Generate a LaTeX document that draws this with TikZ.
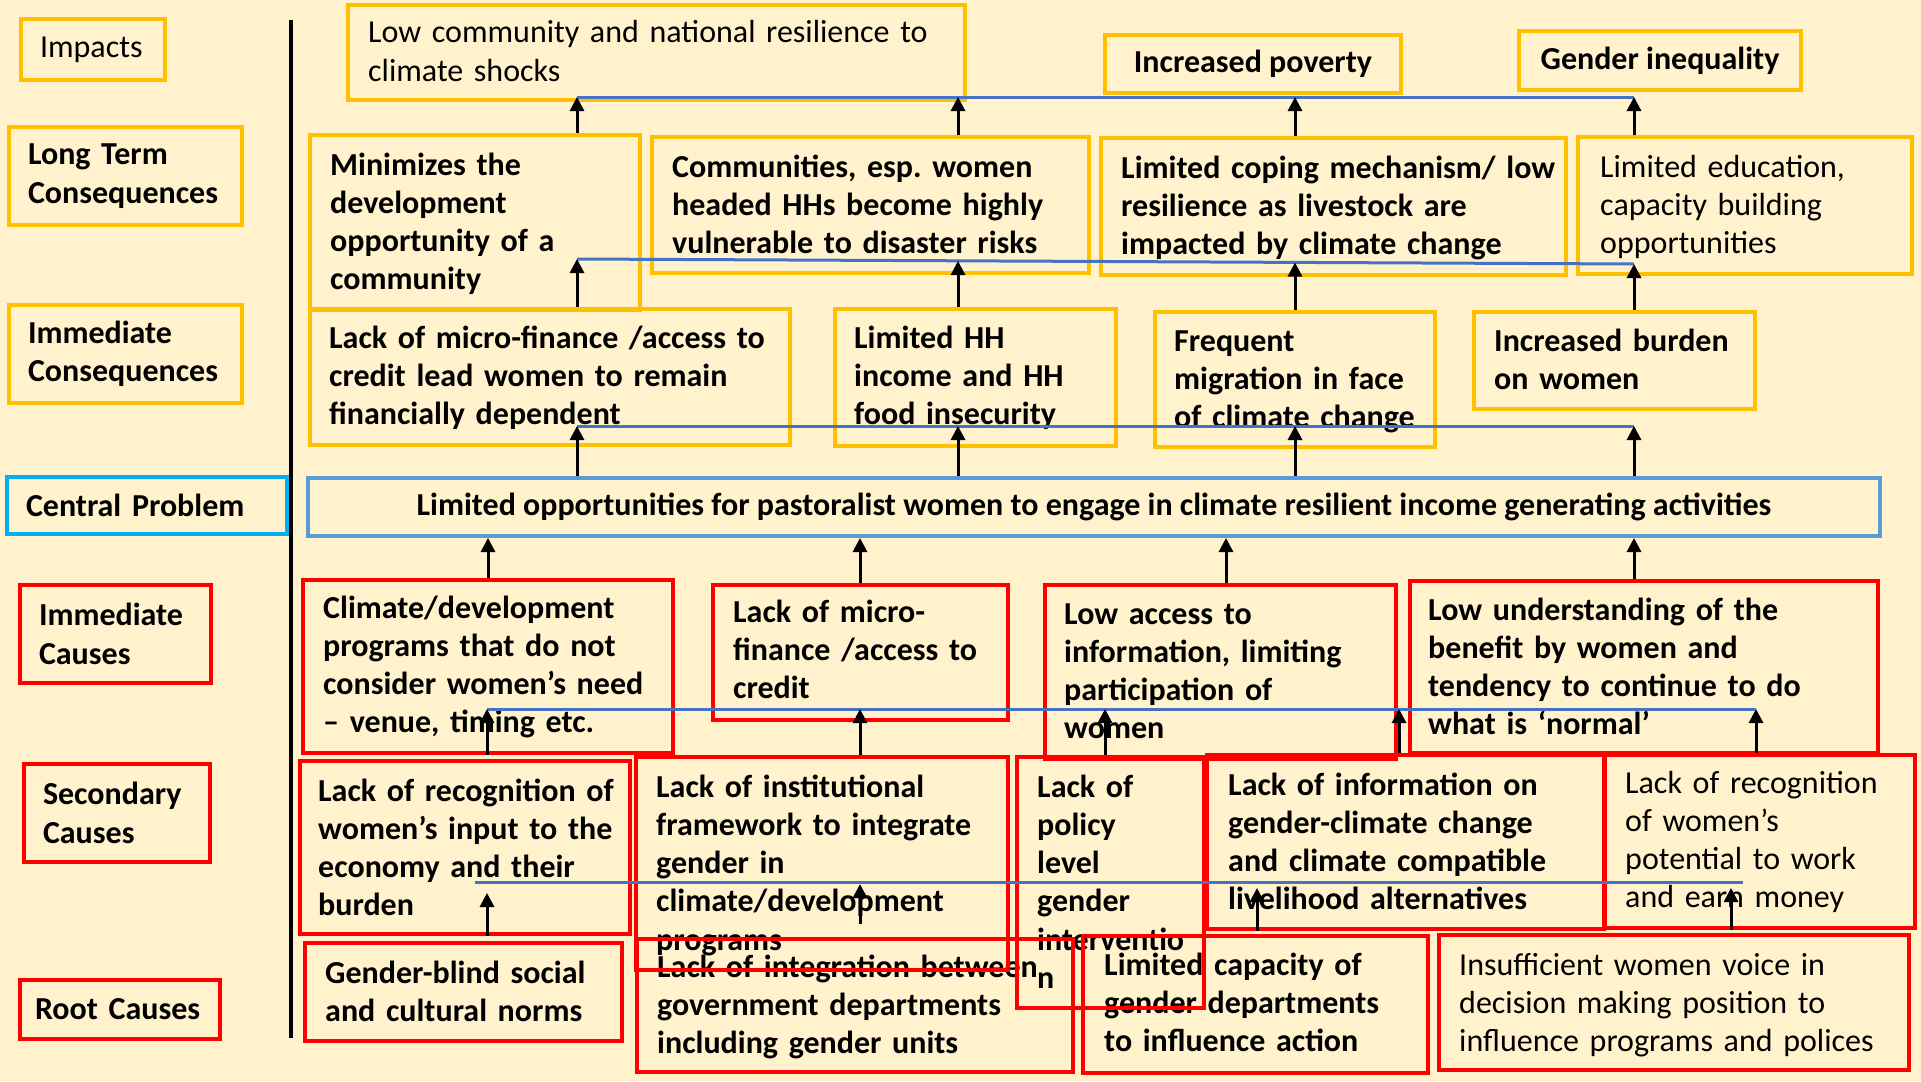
\documentclass[tikz,border=0pt]{standalone}
\usepackage{fontspec}
\setmainfont{Carlito}
\usepackage{tikz}
\usetikzlibrary{arrows.meta,fit,positioning}
\frenchspacing
\definecolor{paper}{HTML}{FFF2CC}
\definecolor{amber}{HTML}{FFC000}
\definecolor{alarm}{HTML}{FF0000}
\definecolor{busblue}{HTML}{4472C4}
\definecolor{probblue}{HTML}{5B9BD5}
\definecolor{labcyan}{HTML}{00B0F0}
\tikzset{
    %Define standard arrow tip
    >={Triangle[length=14pt,width=14pt]},
    %Define style for boxes
    boxline/.style={
           rectangle,
           draw, line width=4pt,
           inner sep=0pt},
    cons/.style={boxline, draw=amber},
    cause/.style={boxline, draw=alarm},
    %Define style for the text in the boxes
    txt/.style={
           anchor=base west,
           inner sep=0pt,
           text width=600pt,
           align=left,
           font=\fontsize{32}{38.3}\selectfont},
    txtb/.style={txt, font=\fontsize{32}{38.3}\selectfont\bfseries},
    %Labels of the levels on the left
    tier/.style={
           rectangle,
           line width=4pt,
           inner xsep=19pt, inner ysep=0pt,
           align=left,
           font=\fontsize{32}{38.3}\selectfont\bfseries},
    % Define arrow style
    uparr/.style={->, line width=3pt},
    bus/.style={busblue, line width=3pt}
}
\begin{document}
\begin{tikzpicture}[x=1pt,y=-1pt]
\path[use as bounding box, fill=paper] (0,0) rectangle (1921,1081);

% level labels
\node[tier, draw=amber, text width=106pt, minimum height=61pt,
  font=\fontsize{32}{38.3}\selectfont] (impacts) at (93,49.5) {Impacts};
\node[tier, draw=amber, text width=195pt, minimum height=98pt] (ltcons) at (125.5,176) {Long Term\\Consequences};
\node[tier, draw=amber, text width=195pt, minimum height=98pt] (imcons) at (125.5,354) {Immediate\\Consequences};
\node[tier, draw=labcyan, text width=242pt, minimum height=57pt] (cprob) at (147,505.5) {Central Problem};
\node[tier, draw=alarm, text width=153pt, minimum height=98pt] (imcaus) at (115.5,634) {Immediate\\Causes};
\node[tier, draw=alarm, text width=148pt, minimum height=98pt] (secaus) at (117,813) {Secondary\\Causes};
\node[tier, draw=alarm, inner xsep=15pt, text width=170pt, minimum height=59pt] (rtcaus) at (120,1009.5) {Root Causes};
\draw[line width=4pt] (291,20) -- (291,1038);

% texts
\node[txt] (lowres-t) at (368,43) {Low community and national resilience to\\climate shocks};
\node[txtb] (minim-t) at (330,175) {Minimizes the\\development\\opportunity of a\\community};
\node[txtb] (commun-t) at (672,177) {Communities, esp. women\\headed HHs become highly\\vulnerable to disaster risks};
\node[txtb] (coping-t) at (1121,178) {Limited coping mechanism/ low\\resilience as livestock are\\impacted by climate change};
\node[txt] (educ-t) at (1600,177) {Limited education,\\capacity building\\opportunities};
\node[txtb] (depend-t) at (329,348) {Lack of micro-finance /access to\\credit lead women to remain\\financially dependent};
\node[txtb] (income-t) at (854,348) {Limited HH\\income and HH\\food insecurity};
\node[txtb] (migr-t) at (1174,351) {Frequent\\migration in face\\of climate change};
\node[txtb] (burden-t) at (1494,351) {Increased burden\\on women};
\node[txtb] (venue-t) at (323,618) {Climate/development\\programs that do not\\consider women’s need\\– venue, timing etc.};
\node[txtb] (credit-t) at (733,622) {Lack of micro-\\finance /access to\\credit};
\node[txtb] (access-t) at (1064,624) {Low access to\\information, limiting\\participation of\\women};
\node[txtb] (normal-t) at (1428,620) {Low understanding of the\\benefit by women and\\tendency to continue to do\\what is ‘normal’};
\node[txtb] (input-t) at (318,801) {Lack of recognition of\\women’s input to the\\economy and their\\burden};
\node[txtb] (instit-t) at (656,797) {Lack of institutional\\framework to integrate\\gender in\\climate/development\\programs};
\node[txtb] (policy-t) at (1037,797) {Lack of\\policy\\level\\gender\\interventio\\n};
\node[txtb] (info-t) at (1228,795) {Lack of information on\\gender-climate change\\and climate compatible\\livelihood alternatives};
\node[txt] (potent-t) at (1625,793) {Lack of recognition\\of women’s\\potential to work\\and earn money};
\node[txtb] (norms-t) at (325,983) {Gender-blind social\\and cultural norms};
\node[txtb] (integr-t) at (657,977) {Lack of integration between\\government departments\\including gender units};
\node[txtb] (capac-t) at (1104,975) {Limited capacity of\\gender departments\\to influence action};
\node[txt] (voice-t) at (1459,975) {Insufficient women voice in\\decision making position to\\influence programs and polices};

% boxes, drawn over the texts
\node[cons, fit={(348,5) (965,100)}] (lowres) {};
\node[cons, minimum width=296pt, minimum height=58pt, font=\fontsize{32}{38.3}\selectfont\bfseries] (poverty) at (1253,64) {Increased poverty};
\node[cons, minimum width=282pt, minimum height=59pt, font=\fontsize{32}{38.3}\selectfont\bfseries] (gender) at (1660,60.5) {Gender inequality};
\node[cons, fit={(310,135) (640,310)}] (minim) {};
\node[cons, fit={(652,137) (1089,273)}] (commun) {};
\node[cons, fit={(1101,138) (1566,275)}] (coping) {};
\node[cons, fit={(1578,137) (1912,274)}] (educ) {};
\node[cons, fit={(310,309) (790,445)}] (depend) {};
\node[cons, fit={(835,309) (1116,446)}] (income) {};
\node[cons, fit={(1155,312) (1435,447)}] (migr) {};
\node[cons, fit={(1474,312) (1755,409)}] (burden) {};
\node[boxline, draw=probblue, minimum width=1572pt, minimum height=58pt, font=\fontsize{32}{38.3}\selectfont\bfseries] (central) at (1094,507)
  {Limited opportunities for pastoralist women to engage in climate resilient income generating activities};
\node[cause, fit={(303,580) (673,753)}] (venue) {};
\node[cause, fit={(713,585) (1008,720)}] (credit) {};
\node[cause, fit={(1045,585) (1396,759)}] (access) {};
\node[cause, fit={(1410,581) (1878,753)}] (normal) {};
\node[cause, fit={(300,761) (630,934)}] (input) {};
\node[cause, fit={(636,757) (1008,970)}] (instit) {};
\node[cause, fit={(1017,757) (1204,1008)}] (policy) {};
\node[cause, fit={(1207,755) (1604,929)}] (info) {};
\node[cause, fit={(1605,755) (1915,928)}] (potent) {};
\node[cause, fit={(305,943) (622,1041)}] (norms) {};
\node[cause, fit={(637,939) (1073,1072)}] (integr) {};
\node[cause, fit={(1083,936) (1428,1073)}] (capac) {};
\node[cause, fit={(1439,935) (1909,1070)}] (voice) {};

% long term consequences -> impacts
\coordinate (a1) at (577,97); \coordinate (a2) at (958,97);
\coordinate (a3) at (1295,97); \coordinate (a4) at (1634,97);
\draw[bus] (a1) -- (a4);
\foreach \src/\dst in {minim/a1, commun/a2, coping/a3, educ/a4}
  \draw[uparr] (\src.north -| \dst) -- (\dst);

% immediate -> long term consequences
\coordinate (b1) at (577,259); \coordinate (b2) at (958,261);
\coordinate (b3) at (1295,262.5); \coordinate (b4) at (1634,264);
\draw[bus] (b1) -- (b4);
\foreach \src/\dst in {depend/b1, income/b2, migr/b3, burden/b4}
  \draw[uparr] (\src.north -| \dst) -- (\dst);

% central problem -> immediate consequences
\coordinate (c1) at (577,426); \coordinate (c2) at (958,426);
\coordinate (c3) at (1295,426); \coordinate (c4) at (1634,426);
\draw[bus] (c1) -- (c4);
\foreach \dst in {c1,c2,c3,c4}
  \draw[uparr] (central.north -| \dst) -- (\dst);

% immediate causes -> central problem
\coordinate (d1) at (488,0); \coordinate (d2) at (860,0);
\coordinate (d3) at (1226,0); \coordinate (d4) at (1634,0);
\foreach \src/\dst in {venue/d1, credit/d2, access/d3, normal/d4}
  \draw[uparr] (\src.north -| \dst) -- (central.south -| \dst);

% secondary -> immediate causes
\coordinate (e1) at (487,709); \coordinate (e2) at (860,709);
\coordinate (e3) at (1105,709); \coordinate (e4) at (1399,709);
\coordinate (e5) at (1756,709);
\draw[bus] (e1) -- (e5);
\draw[uparr] (venue.south -| e1) -- (e1);
\foreach \src/\dst in {instit/e2, policy/e3, info/e4, potent/e5}
  \draw[uparr] (\src.north -| \dst) -- (\dst);

% root -> secondary causes
\coordinate (f0) at (475,882); \coordinate (f5) at (1743,882);
\coordinate (f1) at (487,893); \coordinate (f2) at (860,884);
\coordinate (f3) at (1257,888); \coordinate (f4) at (1731,888);
\draw[bus] (f0) -- (f5);
\draw[uparr] (input.south -| f1) -- (f1);
\draw[uparr] ([yshift=-40pt]f2) -- (f2);
\draw[uparr] (info.south -| f3) -- (f3);
\draw[uparr] (potent.south -| f4) -- (f4);
\end{tikzpicture}
\end{document}
